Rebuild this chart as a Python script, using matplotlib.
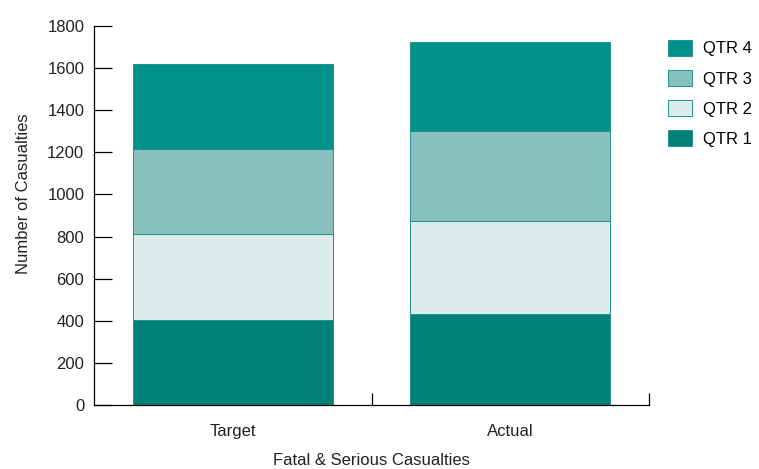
import numpy as np
import matplotlib
matplotlib.use('Agg')
import matplotlib.pyplot as plt
from matplotlib.patches import Patch

plt.rcParams['font.family'] = ['Liberation Sans', 'DejaVu Sans']

# Data
categories = ['Target', 'Actual']
series_names = ['QTR 1', 'QTR 2', 'QTR 3', 'QTR 4']
qtr1 = [405, 433]
qtr2 = [405, 443]
qtr3 = [405, 425]
qtr4 = [405, 423]
values = [qtr1, qtr2, qtr3, qtr4]
colors = ['#008077', '#DCEBEB', '#88C0BD', '#00918A']
edge = '#1E948D'
fs = 12

fig = plt.figure(figsize=(7.59, 4.69), dpi=100)
ax = fig.add_axes([94 / 759, 1 - 405 / 469, 555 / 759, 379 / 469])

x = np.arange(len(categories))
bottom = np.zeros(len(categories))
for name, vals, col in zip(series_names, values, colors):
    ax.bar(x, vals, width=0.72, bottom=bottom, color=col, edgecolor=edge,
           linewidth=0.7, label=name)
    bottom += np.array(vals)

ax.set_xlim(-0.5, 1.5)
ax.set_ylim(0, 1800)
ax.set_yticks(range(0, 1801, 200))
ax.set_xticks(x)
ax.set_xticklabels(categories)
ax.set_xticks([0.5, 1.5], minor=True)
ax.tick_params(axis='x', which='major', length=0, pad=14, labelsize=fs, colors='#222222')
ax.tick_params(axis='x', which='minor', direction='in', length=9, width=0.9)
ax.tick_params(axis='y', direction='in', length=13, width=0.9, pad=7, labelsize=fs,
               labelcolor='#222222')

for s in ['top', 'right']:
    ax.spines[s].set_visible(False)
for s in ['left', 'bottom']:
    ax.spines[s].set_linewidth(0.9)

ax.set_xlabel('Fatal & Serious Casualties', fontsize=fs, color='#222222', labelpad=10)
ax.set_ylabel('Number of Casualties', fontsize=fs, color='#222222')
ax.yaxis.set_label_coords(-0.113, 0.557)

handles = [Patch(facecolor=c, edgecolor=edge, linewidth=0.7) for c in colors][::-1]
fig.legend(handles, series_names[::-1], loc='upper left',
           bbox_to_anchor=(661 / 759, 1 - 33 / 469), frameon=False, fontsize=fs,
           handlelength=1.45, handleheight=1.13, labelspacing=0.8,
           handletextpad=0.66, borderaxespad=0)

fig.savefig('out.png', dpi=100)
